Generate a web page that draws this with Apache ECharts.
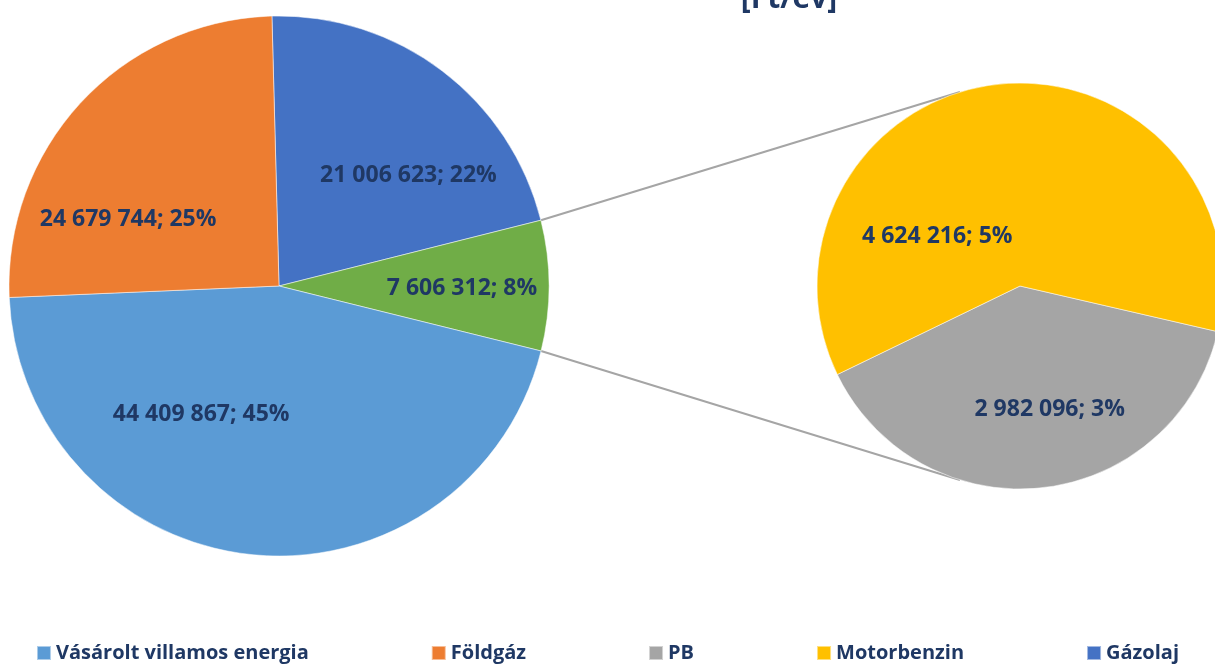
<!DOCTYPE html>
<html>
<head>
<meta charset="utf-8">
<script src="https://cdn.jsdelivr.net/npm/echarts@6/dist/echarts.min.js"></script>
<style>
  html, body { margin: 0; padding: 0; background: #fff; }
  #main { width: 1215px; height: 664px; }
</style>
</head>
<body>
<div id="main"></div>
<script>
// main pie (green slice = sum of the secondary pie)
var mainNames = ['Gázolaj', 'Egyéb', 'Vásárolt villamos energia', 'Földgáz'];
var mainDirect = [21006623, null, 44409867, 24679744];
// secondary pie
var subNames = ['PB', 'Motorbenzin'];
var subValues = [2982096, 4624216];
var legendNames = ['Vásárolt villamos energia', 'Földgáz', 'PB', 'Motorbenzin', 'Gázolaj'];
var titleText = '[Ft/év]';

var colors = {
    'Gázolaj': '#4472c4',
    'Egyéb': '#70ad47',
    'Vásárolt villamos energia': '#5b9bd5',
    'Földgáz': '#ed7d31',
    'PB': '#a5a5a5',
    'Motorbenzin': '#ffc000'
};
// label nudges (layout only)
var labelOffsets = {
    'Gázolaj': [46, -1],
    'Egyéb': [45, 3],
    'Vásárolt villamos energia': [-64, -9],
    'Földgáz': [-50, 28],
    'PB': [18, 20],
    'Motorbenzin': [-71, 54]
};

var subTotal = subValues.reduce(function (a, b) { return a + b; }, 0);
var mainValues = mainDirect.map(function (v) { return v === null ? subTotal : v; });
var grandTotal = mainValues.reduce(function (a, b) { return a + b; }, 0);

var c1 = [279, 286], r1 = 270;
var c2 = [1020, 286], r2 = 203;
var mainStart = 91.5;   // echarts degrees
var subStart = -13;
var textColor = '#1f3864';
var font = '"Open Sans", "Noto Sans", sans-serif';

function fmt(v) {
    return String(v).replace(/\B(?=(\d{3})+(?!\d))/g, ' ');
}

function buildData(names, values) {
    return names.map(function (n, i) {
        return {
            name: n,
            value: values[i],
            itemStyle: { color: colors[n] },
            label: { offset: labelOffsets[n] }
        };
    });
}

var labelCfg = {
    show: true,
    position: 'inside',
    color: textColor,
    fontFamily: font,
    fontWeight: 'bold',
    fontSize: 23,
    formatter: function (p) {
        return fmt(p.value) + '; ' + Math.round(p.value / grandTotal * 100) + '%';
    }
};

// connector lines from the green slice edges to the secondary pie
function pt(c, r, degFromTop) {
    var a = degFromTop * Math.PI / 180;
    return [c[0] + r * Math.sin(a), c[1] - r * Math.cos(a)];
}
var gStart = (90 - mainStart) + mainValues[0] / grandTotal * 360;
var gEnd = gStart + mainValues[1] / grandTotal * 360;
var p1 = pt(c1, r1, gStart), p2 = pt(c1, r1, gEnd);
var q1 = pt(c2, r2, -17.2), q2 = pt(c2, r2, 197.2);

var chart = echarts.init(document.getElementById('main'));
chart.setOption({
    animation: false,
    legend: {
        data: legendNames,
        top: 643,
        left: 'center',
        padding: 0,
        itemWidth: 14,
        itemHeight: 14,
        itemGap: 122,
        icon: 'rect',
        textStyle: {
            color: textColor,
            fontFamily: font,
            fontWeight: 'bold',
            fontSize: 20
        }
    },
    graphic: [
        {
            type: 'text',
            style: {
                text: titleText,
                x: 789, y: 14,
                textAlign: 'center',
                textVerticalAlign: 'bottom',
                fill: textColor,
                font: 'bold 30px ' + font
            }
        },
        {
            type: 'line',
            shape: { x1: p1[0], y1: p1[1], x2: q1[0], y2: q1[1] },
            style: { stroke: '#a5a5a5', lineWidth: 2 }
        },
        {
            type: 'line',
            shape: { x1: p2[0], y1: p2[1], x2: q2[0], y2: q2[1] },
            style: { stroke: '#a5a5a5', lineWidth: 2 }
        }
    ],
    series: [
        {
            type: 'pie',
            center: c1,
            radius: r1,
            startAngle: mainStart,
            itemStyle: { borderColor: 'rgba(255,255,255,0.5)', borderWidth: 1 },
            label: labelCfg,
            labelLine: { show: false },
            data: buildData(mainNames, mainValues)
        },
        {
            type: 'pie',
            center: c2,
            radius: r2,
            startAngle: subStart,
            itemStyle: { borderColor: 'rgba(255,255,255,0.5)', borderWidth: 1 },
            label: labelCfg,
            labelLine: { show: false },
            data: buildData(subNames, subValues)
        }
    ]
});
</script>
</body>
</html>
